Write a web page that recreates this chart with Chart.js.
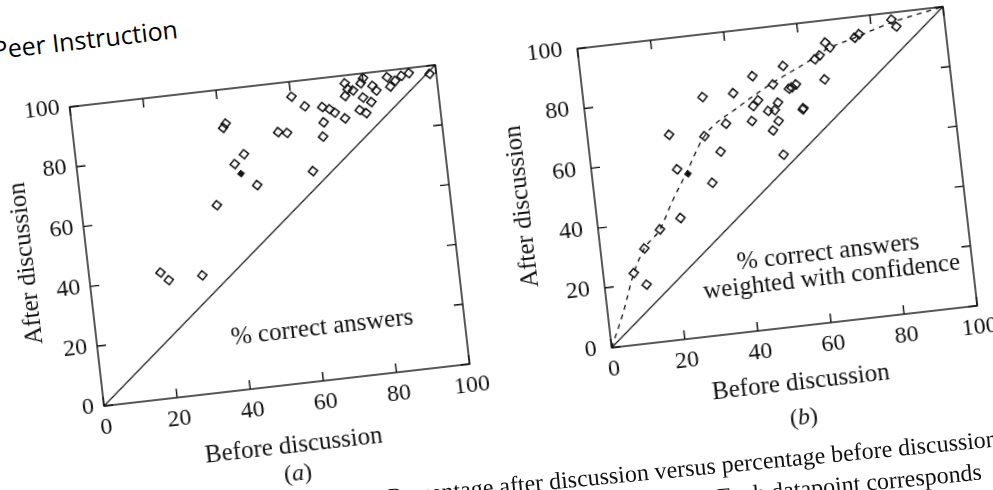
<!DOCTYPE html>
<html>
<head>
<meta charset="utf-8">
<script src="https://cdn.jsdelivr.net/npm/chart.js@4.4.1/dist/chart.umd.min.js"></script>
<style>
  html, body { margin: 0; padding: 0; background: #fff; overflow: hidden; width: 993px; height: 490px; }
  #page { position: absolute; left: 34px; top: 46px; width: 1000px; height: 470px;
          transform-origin: 70px 360px; transform: rotate(-6.55deg); }
  canvas { position: absolute; top: 0; }
  #chartA { left: -10px; }
  #chartB { left: 489px; }
  .heading { position: absolute; left: 0; top: -22px; font-family: "Open Sans", sans-serif;
             font-size: 25px; line-height: 30px; color: #000; white-space: nowrap; }
  .panel { position: absolute; width: 60px; margin-left: -30px; text-align: center;
           font-family: "Liberation Serif", serif; font-size: 24px; line-height: 28px; color: #111; }
  .caption { position: absolute; font-family: "Liberation Serif", serif; font-size: 24px; line-height: 32px;
             color: #111; white-space: nowrap; transform-origin: 0 0; transform: rotate(-5.5deg); }
</style>
</head>
<body>
<div id="page">
  <div class="heading">Peer Instruction</div>
  <canvas id="chartA" width="490" height="440"></canvas>
  <canvas id="chartB" width="502" height="440"></canvas>
  <div class="panel" style="left:255px; top:434px;">(<i>a</i>)</div>
  <div class="panel" style="left:764px; top:436px;">(<i>b</i>)</div>
</div>
<div class="caption" style="left:387px; top:481px;">Percentage after discussion versus percentage before discussion</div>
<div class="caption" style="left:716px; top:481px;">Each datapoint corresponds</div>

<script>
// axis ticks (both panels, both axes)
const tickValues = [0, 20, 40, 60, 80, 100];
const diagonal = [0, 100];

// (a) % correct answers
const beforeA = [19.4, 21.4, 30.6, 36.7, 41.6, 40.8, 45.6, 42.8, 48.2, 55.5, 57.9, 60.2, 63.5, 63.7,
                 68.2, 68.1, 67.5, 70.1, 71.4, 74.0, 74.7, 75.0, 75.6, 77.0, 80.1, 79.3, 82.4, 83.3,
                 79.5, 81.6, 78.2, 79.9, 86.6, 87.2, 88.7, 90.5, 92.6, 98.2];
const afterA = [41.9, 39.1, 39.4, 62.0, 88.6, 87.3, 77.8, 74.9, 67.1, 83.8, 83.2, 95.0, 91.3, 69.6,
                90.4, 85.3, 80.6, 89.4, 88.1, 85.8, 93.2, 97.4, 95.4, 94.7, 98.4, 96.8, 95.5, 93.8,
                92.0, 90.2, 88.0, 86.7, 97.8, 94.6, 96.3, 97.7, 98.3, 97.3];
const markedBeforeA = [44.2];
const markedAfterA = [71.5];

// (b) weighted with confidence
const beforeB = [8.3, 11.4, 11.9, 16.7, 22.6, 23.2, 22.1, 32.3, 31.6, 35.5, 37.8, 32.3, 40.7, 46.4,
                 44.9, 45.7, 47.2, 51.7, 55.0, 49.6, 50.3, 52.1, 52.5, 51.4, 52.4, 55.9, 56.7, 57.9,
                 59.0, 59.2, 65.8, 63.8, 65.2, 67.1, 68.2, 75.2, 76.5, 85.7, 86.8];
const afterB = [23.8, 19.5, 31.5, 37.2, 40.2, 56.4, 68.1, 50.6, 66.3, 60.6, 69.6, 79.3, 79.4, 84.3,
                69.5, 74.4, 76.1, 80.8, 86.5, 72.2, 65.6, 68.5, 74.6, 72.2, 57.2, 78.8, 79.1, 79.9,
                71.4, 71.8, 80.5, 87.5, 88.6, 92.6, 90.8, 93.1, 94.1, 97.7, 95.2];
const markedBeforeB = [26.0];
const markedAfterB = [54.5];
const curveBefore = [0, 4.2, 8.3, 11.9, 16.7, 20.7, 25.6, 31.6, 42.1, 51.8, 61.4, 67.2, 75.2, 85.6, 100];
const curveAfter = [0, 11.1, 23.8, 31.5, 37.2, 45.6, 54.9, 66.3, 74.9, 81.4, 86.7, 90.3, 93.1, 96.7, 100];

const notesA = ['% correct answers'];
const notesB = ['% correct answers', 'weighted with confidence'];

const ink = '#111';
const serif = '"Liberation Serif", "Times New Roman", serif';
const pts = (xs, ys) => xs.map((v, i) => ({ x: v, y: ys[i] }));

// box round the plot with inward ticks on all four sides, plus the note text
const framePlugin = {
  id: 'frame',
  afterDatasetsDraw(chart, args, opts) {
    const { ctx, chartArea: a, scales: { x, y } } = chart;
    ctx.save();
    ctx.strokeStyle = ink;
    ctx.lineWidth = 1.4;
    ctx.strokeRect(a.left, a.top, a.right - a.left, a.bottom - a.top);
    ctx.beginPath();
    tickValues.forEach(v => {
      const px = x.getPixelForValue(v), py = y.getPixelForValue(v);
      ctx.moveTo(px, a.bottom); ctx.lineTo(px, a.bottom - 9);
      ctx.moveTo(px, a.top); ctx.lineTo(px, a.top + 9);
      ctx.moveTo(a.left, py); ctx.lineTo(a.left + 9, py);
      ctx.moveTo(a.right, py); ctx.lineTo(a.right - 9, py);
    });
    ctx.stroke();
    ctx.fillStyle = ink;
    ctx.font = '25px ' + serif;
    ctx.textAlign = 'center';
    ctx.textBaseline = 'middle';
    opts.notes.forEach(n => ctx.fillText(n.text, x.getPixelForValue(n.x), y.getPixelForValue(n.y)));
    ctx.restore();
  }
};

function axis(title, isX, size, tickPad, titlePad) {
  return {
    type: 'linear',
    min: 0,
    max: 100,
    afterFit: s => { if (isX) s.height = size; else s.width = size; },
    afterBuildTicks: s => { s.ticks = tickValues.map(v => ({ value: v })); },
    grid: { display: false },
    border: { display: false },
    ticks: { color: ink, padding: tickPad, font: { family: serif, size: 24 } },
    title: {
      display: true, text: title, color: ink,
      font: { family: serif, size: 25 },
      padding: isX ? { top: 0, bottom: titlePad } : { top: titlePad, bottom: 0 }
    }
  };
}

function makeChart(id, layout, points, marked, extra, notes) {
  const datasets = [
    { data: pts(diagonal, diagonal), showLine: true, borderColor: ink, borderWidth: 1.3, pointRadius: 0 },
    ...extra,
    { data: points, pointStyle: 'rectRot', pointRadius: 4.6, borderWidth: 1.5,
      borderColor: ink, backgroundColor: 'rgba(0,0,0,0)' },
    { data: marked, pointStyle: 'rectRot', pointRadius: 3.5, borderWidth: 1,
      borderColor: ink, backgroundColor: ink }
  ];
  return new Chart(document.getElementById(id).getContext('2d'), {
    type: 'scatter',
    data: { datasets },
    options: {
      responsive: false,
      animation: false,
      layout: { padding: { top: 59, right: 42, left: 0, bottom: 0 } },
      scales: {
        x: axis('Before discussion', true, 80, -1, layout.xTitlePad),
        y: axis('After discussion', false, layout.yWidth, layout.yTickPad, 4)
      },
      plugins: {
        legend: { display: false },
        tooltip: { enabled: false },
        frame: { notes }
      }
    },
    plugins: [framePlugin]
  });
}

makeChart('chartA', { yWidth: 80, yTickPad: 2, xTitlePad: 4 },
  pts(beforeA, afterA), pts(markedBeforeA, markedAfterA), [],
  [{ text: notesA[0], x: 61.3, y: 17.6 }]);

makeChart('chartB', { yWidth: 92, yTickPad: 7, xTitlePad: 9 },
  pts(beforeB, afterB), pts(markedBeforeB, markedAfterB),
  [{ data: pts(curveBefore, curveAfter), showLine: true, borderColor: ink, borderWidth: 1.3,
     borderDash: [5, 5], pointRadius: 0, cubicInterpolationMode: 'monotone' }],
  [{ text: notesB[0], x: 61.4, y: 23.2 }, { text: notesB[1], x: 61.6, y: 14.8 }]);
</script>
</body>
</html>
